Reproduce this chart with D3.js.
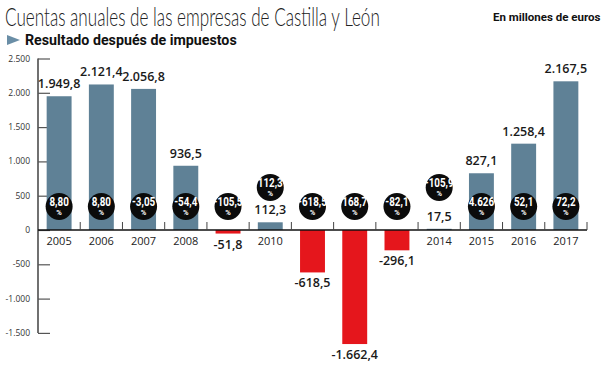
<!DOCTYPE html>
<html><head><meta charset="utf-8">
<script src="https://cdn.jsdelivr.net/npm/d3@7"></script>
<style>
html,body{margin:0;padding:0;background:#fff;}
svg{display:block;}
</style></head>
<body>
<svg id="chart" width="609" height="367"></svg>
<script>
const years = ["2005","2006","2007","2008","2009","2010","2011","2012","2013","2014","2015","2016","2017"];
const values = [1949.8, 2121.4, 2056.8, 936.5, -51.8, 112.3, -618.5, -1662.4, -296.1, 17.5, 827.1, 1258.4, 2167.5];
const valueLabels = ["1.949,8","2.121,4","2.056,8","936,5","-51,8","112,3","-618,5","-1.662,4","-296,1","17,5","827,1","1.258,4","2.167,5"];
const pctLabels = ["8,80","8,80","-3,05","-54,4","-105,5","112,3","-618,5","168,7","-82,1","-105,9","4.626","52,1","72,2"];
const yTicks = [2500, 2000, 1500, 1000, 500, 0, -500, -1000, -1500];
const yTickLabels = ["2.500","2.000","1.500","1.000","500","0","-500","-1.000","-1.500"];
const title = "Cuentas anuales de las empresas de Castilla y León";
const subtitle = "Resultado después de impuestos";
const unitNote = "En millones de euros";

const svg = d3.select("#chart");
const BLUE = "#5f8196", RED = "#e5161c";
const body = "'Open Sans','Noto Sans',sans-serif";
const bold = "Roboto,'Open Sans',sans-serif";

const x = d3.scaleBand().domain(years).range([38, 587]).padding(0);
const y = d3.scaleLinear().domain([-1500, 2500]).range([332.9, 58.5]);
const bw = x.bandwidth() * 0.59;
const cx = d => x(d) + x.bandwidth() / 2;

// Fit a text horizontally into a width by scaling its group
function fitText(g, targetW) {
  const t = g.select("text").node();
  const w = t.getComputedTextLength();
  const k = Math.min(1, targetW / w);
  const tx = +g.attr("data-x"), ty = +g.attr("data-y");
  g.attr("transform", `translate(${tx},${ty}) scale(${k},1)`);
}

// Title
const gTitle = svg.append("g").attr("data-x", 5).attr("data-y", 25.5);
gTitle.append("text").attr("x", 0).attr("y", 0)
  .attr("font-family", "Lato,'Open Sans',sans-serif").attr("font-weight", 300)
  .attr("font-size", 24.5).attr("fill", "#222")
  .text(title);
fitText(gTitle, 375);

const gUnit = svg.append("g").attr("data-x", 493).attr("data-y", 21);
gUnit.append("text").attr("x", 0).attr("y", 0)
  .attr("font-family", bold).attr("font-weight", 700).attr("font-size", 11.5).attr("fill", "#111")
  .text(unitNote);
fitText(gUnit, 111);

svg.append("path").attr("d", "M7,35 L20,40 L7,45 Z").attr("fill", "#6a8ea6");
const gSub = svg.append("g").attr("data-x", 25).attr("data-y", 44.5);
gSub.append("text").attr("x", 0).attr("y", 0)
  .attr("font-family", bold).attr("font-weight", 700).attr("font-size", 14.5).attr("fill", "#111")
  .text(subtitle);
fitText(gSub, 212);

// Y axis
const yAxis = d3.axisRight(y).tickValues(yTicks).tickSize(12).tickFormat("");
const gy = svg.append("g").attr("transform", "translate(38,0)").call(yAxis);
gy.select(".domain").attr("stroke", "#111").attr("stroke-width", 1.2).attr("d", `M0,${y(2500)}V${y(-1500)}`);
gy.selectAll(".tick line").attr("stroke", "#555").attr("stroke-width", 1.2);
svg.append("g").selectAll("text").data(yTicks).join("text")
  .attr("x", 30).attr("y", d => y(d) + 3).attr("text-anchor", "end")
  .attr("font-family", body).attr("font-size", 8.5).attr("fill", "#333")
  .text((d, i) => yTickLabels[i]);

// Bars
svg.append("g").selectAll("rect").data(values).join("rect")
  .attr("x", (d, i) => cx(years[i]) - bw / 2)
  .attr("y", d => y(Math.max(0, d)))
  .attr("width", bw)
  .attr("height", d => Math.abs(y(d) - y(0)))
  .attr("fill", d => d >= 0 ? BLUE : RED);

// Zero line and x ticks
svg.append("line").attr("x1", 38).attr("x2", 587).attr("y1", y(0)).attr("y2", y(0))
  .attr("stroke", "#111").attr("stroke-width", 1.5);
svg.append("g").selectAll("line").data(years.slice(1).concat(["end"])).join("line")
  .attr("x1", d => d === "end" ? x(years[years.length - 1]) + x.bandwidth() : x(d))
  .attr("x2", d => d === "end" ? x(years[years.length - 1]) + x.bandwidth() : x(d))
  .attr("y1", y(0)).attr("y2", y(0) - 8)
  .attr("stroke", "#444").attr("stroke-width", 1);

// Year labels (only where the bar does not cover them)
svg.append("g").selectAll("text").data(years.filter((d, i) => values[i] >= 0)).join("text")
  .attr("x", d => cx(d)).attr("y", y(0) + 14.5).attr("text-anchor", "middle")
  .attr("font-family", body).attr("font-size", 11).attr("fill", "#222")
  .text(d => d);

// Value labels
svg.append("g").selectAll("text").data(values).join("text")
  .attr("x", (d, i) => cx(years[i]))
  .attr("y", d => d >= 0 ? y(d) - 8 : y(d) + 15)
  .attr("text-anchor", "middle")
  .attr("font-family", body).attr("font-weight", 600).attr("font-size", 12.5).attr("fill", "#1a1a1a")
  .text((d, i) => valueLabels[i]);

// Percentage circles
const cyOf = d => (d > 0 && d < 300) ? y(0) - 42.5 : y(0) - 23.5;
const circ = svg.append("g").selectAll("g").data(values).join("g")
  .attr("transform", (d, i) => `translate(${cx(years[i])},${cyOf(d)})`);
circ.append("circle").attr("r", 13.5).attr("fill", "#0b0b0b");
circ.append("text").attr("y", -0.5).attr("text-anchor", "middle")
  .attr("transform", "scale(0.82,1)")
  .attr("font-family", bold).attr("font-weight", 700).attr("font-size", 12).attr("fill", "#fff")
  .text((d, i) => pctLabels[i]);
circ.append("text").attr("y", 8.5).attr("text-anchor", "middle")
  .attr("font-family", bold).attr("font-weight", 700).attr("font-size", 7.5).attr("fill", "#fff")
  .text("%");
</script>
</body></html>
